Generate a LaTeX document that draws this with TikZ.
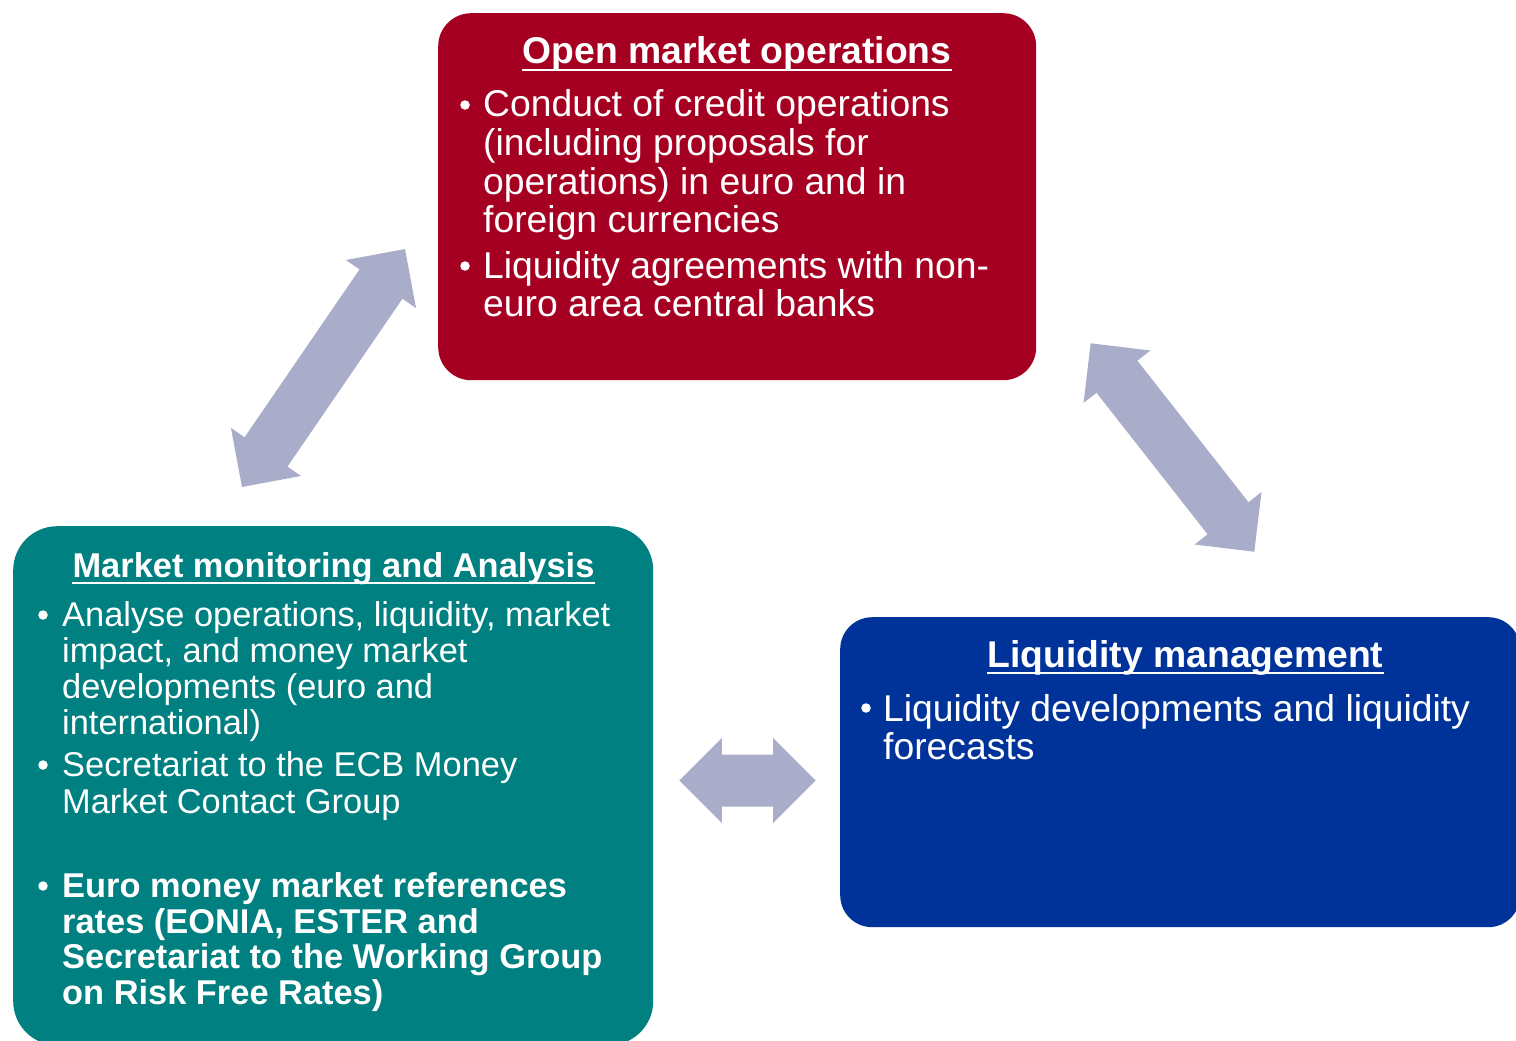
\documentclass[tikz,border=0pt]{standalone}
\usepackage{fontspec}
\setmainfont{Liberation Sans}
\usetikzlibrary{calc}

\definecolor{omored}{RGB}{165,0,33}
\definecolor{mmateal}{RGB}{0,128,128}
\definecolor{lmblue}{RGB}{0,51,153}
\definecolor{linkgrey}{RGB}{169,173,202}

% double-headed block arrow between two named points
\newcommand\dblblockarrow[2]{%
  \fill[linkgrey] (#1)
    -- ($(#1)!42.5pt!(#2)!42.5pt!90:(#2)$)
    -- ($(#1)!42.5pt!(#2)!26pt!90:(#2)$)
    -- ($(#2)!42.5pt!(#1)!26pt!-90:(#1)$)
    -- ($(#2)!42.5pt!(#1)!42.5pt!-90:(#1)$)
    -- (#2)
    -- ($(#2)!42.5pt!(#1)!42.5pt!90:(#1)$)
    -- ($(#2)!42.5pt!(#1)!26pt!90:(#1)$)
    -- ($(#1)!42.5pt!(#2)!26pt!-90:(#2)$)
    -- ($(#1)!42.5pt!(#2)!42.5pt!-90:(#2)$)
    -- cycle;}

\tikzset{
  panel/.style={draw=none, anchor=north west, inner sep=0pt},
  big/.style={font=\fontsize{37.3}{39}\selectfont},
  bigbold/.style={font=\fontsize{37.3}{39}\selectfont\bfseries},
  small/.style={font=\fontsize{34.4}{36}\selectfont},
  smallbold/.style={font=\fontsize{34.4}{36}\selectfont\bfseries},
  line/.style={text=white, inner sep=0pt, anchor=base west},
  headline/.style={text=white, inner sep=0pt, anchor=base},
  dot/.style={circle, fill=white, inner sep=0pt, minimum size=9.5pt},
  uline/.style={white, line width=2.8pt},
}

\begin{document}
\begin{tikzpicture}[x=1pt, y=-1pt]
\useasboundingbox (0,0) rectangle (1516,1041);
\begin{scope}
\clip (0,0) rectangle (1516,1041);

% panels
\node[panel, fill=omored, rounded corners=33pt, minimum width=598pt, minimum height=367pt] (omo) at (438,13) {};
\node[panel, fill=mmateal, rounded corners=44pt, minimum width=640pt, minimum height=519pt] (mma) at (13,526) {};
\node[panel, fill=lmblue, rounded corners=32pt, minimum width=680pt, minimum height=310pt] (lm) at (840,617) {};

% open market operations
\node[headline, bigbold] (omo-t) at (737,64) {Open market operations};
\draw[uline] ($(omo-t.base west)+(0,6)$) -- ($(omo-t.base east)+(0,6)$);
\node[dot] (omo-b1) at (465,105) {};
\node[dot] (omo-b2) at (465,266) {};
\foreach \ybase/\linetext [count=\i] in {117/Conduct of credit operations,
    155.5/(including proposals for,
    194/operations) in euro and in,
    232.5/foreign currencies,
    278/Liquidity agreements with non-,
    316/euro area central banks}
  \node[line, big] (omo-l\i) at (483,\ybase) {\linetext};

% market monitoring and analysis
\node[headline, smallbold] (mma-t) at (333.5,577) {Market monitoring and Analysis};
\draw[uline] ($(mma-t.base west)+(0,6)$) -- ($(mma-t.base east)+(0,6)$);
\node[dot] (mma-b1) at (43,615) {};
\node[dot] (mma-b2) at (43,765) {};
\node[dot] (mma-b3) at (43,886) {};
\foreach \ybase/\linetext [count=\i] in {626/{Analyse operations, liquidity, market},
    662/{impact, and money market},
    698/developments (euro and,
    734/international),
    776/Secretariat to the ECB Money,
    813/Market Contact Group}
  \node[line, small] (mma-l\i) at (62,\ybase) {\linetext};
\foreach \ybase/\linetext [count=\i] in {897/Euro money market references,
    933/{rates (EONIA, ESTER and},
    968/Secretariat to the Working Group,
    1004/on Risk Free Rates)}
  \node[line, smallbold] (mma-k\i) at (62,\ybase) {\linetext};

% liquidity management
\node[headline, bigbold] (lm-t) at (1185.5,667) {Liquidity management};
\draw[uline] ($(lm-t.base west)+(0,6)$) -- ($(lm-t.base east)+(0,6)$);
\node[dot] (lm-b1) at (866,708) {};
\node[line, big] (lm-l1) at (883,721) {Liquidity developments and liquidity};
\node[line, big] (lm-l2) at (883,759) {forecasts};

% links between the panels
\coordinate (link1a) at (405,249);
\coordinate (link1b) at (242,487);
\coordinate (link2a) at (1090.7,343.3);
\coordinate (link2b) at (1254.3,551.7);
\coordinate (link3a) at (679.3,780.5);
\coordinate (link3b) at (815.7,780.5);
\dblblockarrow{link1a}{link1b}
\dblblockarrow{link2a}{link2b}
\dblblockarrow{link3a}{link3b}
\end{scope}
\end{tikzpicture}
\end{document}
